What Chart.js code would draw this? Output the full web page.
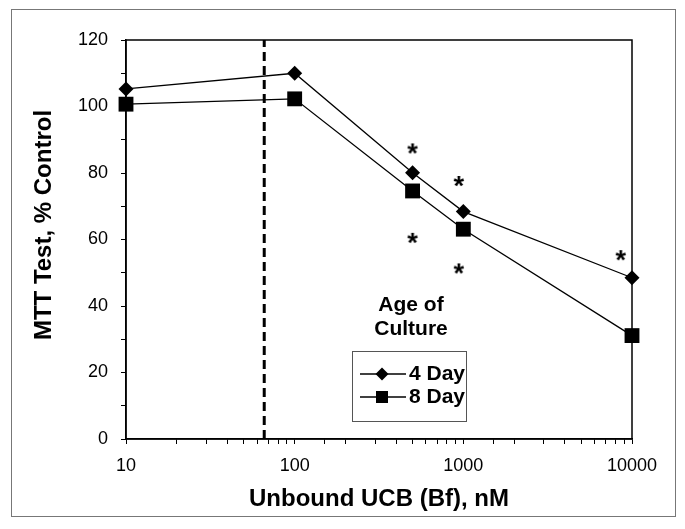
<!DOCTYPE html>
<html><head><meta charset="utf-8">
<script src="https://cdn.jsdelivr.net/npm/chart.js@4.4.1/dist/chart.umd.min.js"></script>
<style>html,body{margin:0;padding:0;background:#fff;overflow:hidden;} #wrap{position:absolute;left:0;top:0;width:685px;height:529px;}</style>
</head><body><div id="wrap"><canvas id="c" width="685" height="529"></canvas></div>
<script>
const concentrations = [10, 100, 500, 1000, 10000];
const day4 = [105.3, 110.0, 80.1, 68.4, 48.5];
const day8 = [100.7, 102.3, 74.6, 63.1, 31.1];
const thresholdX = 66;
const sigX = [500, 940, 500, 940, 8570];
const sigY = [87.4, 77.6, 60.5, 51.3, 55.3];
const xTickLabels = [10, 100, 1000, 10000];
const yTickLabels = [0, 20, 40, 60, 80, 100, 120];
const seriesNames = ['4 Day', '8 Day'];
const legendTitle = ['Age of', 'Culture'];
const yTitle = 'MTT Test, % Control';
const xTitle = 'Unbound UCB (Bf), nM';

const FONT = '"Liberation Sans", Arial, sans-serif';

// asterisk image for significance marks
const star = document.createElement('canvas');
star.width = 20; star.height = 20;
(function(){
  const g = star.getContext('2d');
  g.fillStyle = '#000';
  g.font = 'bold 27px ' + FONT;
  g.textAlign = 'center';
  g.textBaseline = 'alphabetic';
  g.fillText('*', 10, 24);
})();

const pts = (xs, ys) => xs.map((x, i) => ({x: x, y: ys[i]}));

const framePlugin = {
  id: 'frame',
  beforeDraw(chart) {
    const ctx = chart.ctx;
    ctx.save();
    ctx.fillStyle = '#fff';
    ctx.fillRect(0, 0, chart.width, chart.height);
    ctx.strokeStyle = '#777';
    ctx.lineWidth = 1;
    ctx.strokeRect(11.5, 9.5, 664, 507);
    ctx.restore();
  },
  afterDraw(chart) {
    const ctx = chart.ctx;
    const a = chart.chartArea;
    ctx.save();
    ctx.strokeStyle = '#000';
    ctx.lineWidth = 1.5;
    ctx.strokeRect(a.left, a.top, a.right - a.left, a.bottom - a.top);

    // y-axis title
    ctx.save();
    ctx.translate(44, a.top + 185);
    ctx.rotate(-Math.PI / 2);
    ctx.fillStyle = '#000';
    ctx.font = 'bold 24px ' + FONT;
    ctx.textAlign = 'center';
    ctx.textBaseline = 'middle';
    ctx.fillText(yTitle, 0, 0);
    ctx.restore();

    // legend
    const bx = a.left + 226, by = a.top + 311, bw = 114, bh = 70;
    const cx = bx + bw / 2;
    ctx.fillStyle = '#000';
    ctx.font = 'bold 21px ' + FONT;
    ctx.textAlign = 'center';
    ctx.textBaseline = 'middle';
    ctx.fillText(legendTitle[0], cx + 2, by - 46);
    ctx.fillText(legendTitle[1], cx + 2, by - 22);
    ctx.fillStyle = '#fff';
    ctx.fillRect(bx, by, bw, bh);
    ctx.strokeStyle = '#555';
    ctx.lineWidth = 1;
    ctx.strokeRect(bx + 0.5, by + 0.5, bw, bh);
    const rows = [by + 23, by + 46];
    ctx.strokeStyle = '#000';
    ctx.lineWidth = 1.3;
    ctx.fillStyle = '#000';
    rows.forEach((ry, i) => {
      ctx.beginPath();
      ctx.moveTo(bx + 8, ry); ctx.lineTo(bx + 54, ry); ctx.stroke();
      const mx = bx + 30;
      ctx.beginPath();
      if (i === 0) {
        const r = 6.5;
        ctx.moveTo(mx, ry - r); ctx.lineTo(mx + r, ry); ctx.lineTo(mx, ry + r); ctx.lineTo(mx - r, ry); ctx.closePath();
      } else {
        const s = 6;
        ctx.rect(mx - s, ry - s, 2 * s, 2 * s);
      }
      ctx.fill();
      ctx.font = 'bold 21px ' + FONT;
      ctx.textAlign = 'left';
      ctx.textBaseline = 'middle';
      ctx.fillText(seriesNames[i], bx + 57, ry);
    });
    ctx.restore();
  }
};

new Chart(document.getElementById('c'), {
  type: 'line',
  data: {
    datasets: [
      {
        label: 'threshold',
        data: [{x: thresholdX, y: 0}, {x: thresholdX, y: 120}],
        borderColor: '#000', borderWidth: 3, borderDash: [9, 5],
        pointRadius: 0, fill: false
      },
      {
        label: seriesNames[0],
        data: pts(concentrations, day4),
        borderColor: '#000', borderWidth: 1.3,
        pointStyle: 'rectRot', pointRadius: 7.5,
        pointBackgroundColor: '#000', pointBorderColor: '#000', pointBorderWidth: 0,
        fill: false, tension: 0, clip: false
      },
      {
        label: seriesNames[1],
        data: pts(concentrations, day8),
        borderColor: '#000', borderWidth: 1.3,
        pointStyle: 'rect', pointRadius: 10.5,
        pointBackgroundColor: '#000', pointBorderColor: '#000', pointBorderWidth: 0,
        fill: false, tension: 0, clip: false
      },
      {
        label: 'significance',
        data: pts(sigX, sigY),
        showLine: false, clip: false,
        pointStyle: star, pointRadius: 10
      }
    ]
  },
  options: {
    responsive: false,
    animation: false,
    devicePixelRatio: 1,
    layout: {padding: {left: 0, top: 40, right: 53, bottom: 0}},
    plugins: {legend: {display: false}, tooltip: {enabled: false}},
    scales: {
      x: {
        type: 'logarithmic',
        min: 10, max: 10000,
        afterFit(s) { s.height = 90; },
        grid: {drawOnChartArea: false, drawTicks: true, tickLength: 5, color: '#000', tickWidth: 1},
        border: {display: true, color: '#000', width: 1.5},
        ticks: {
          autoSkip: false, maxRotation: 0, padding: 11,
          color: '#000', font: {family: FONT, size: 18},
          callback: (v) => xTickLabels.includes(v) ? String(v) : ''
        },
        title: {display: true, text: xTitle, color: '#000',
          font: {family: FONT, size: 24, weight: 'bold'}, padding: {top: 0, bottom: 15}}
      },
      y: {
        min: 0, max: 120,
        afterFit(s) { s.width = 126; },
        grid: {drawOnChartArea: false, drawTicks: true, tickLength: 5, color: '#000', tickWidth: 1},
        border: {display: true, color: '#000', width: 1.5},
        ticks: {
          stepSize: 10, autoSkip: false, padding: 13,
          color: '#000', font: {family: FONT, size: 18},
          callback: (v) => yTickLabels.includes(v) ? String(v) : ''
        },
        title: {display: false}
      }
    }
  },
  plugins: [framePlugin]
});
</script>
</body></html>
